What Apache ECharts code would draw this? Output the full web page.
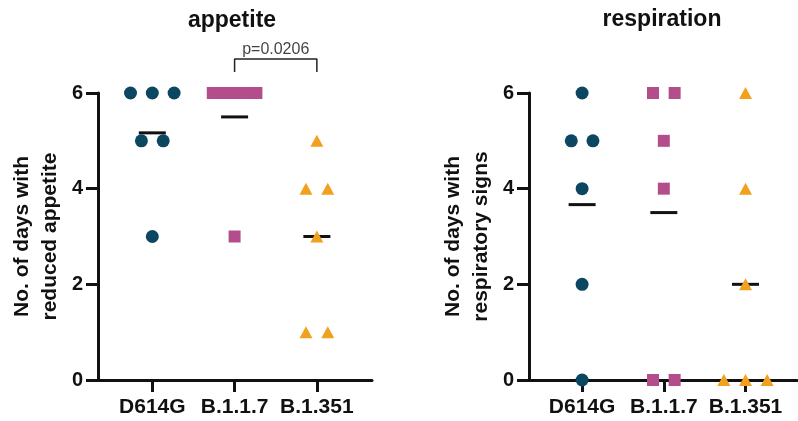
<!DOCTYPE html>
<html>
<head>
<meta charset="utf-8">
<script src="https://cdn.jsdelivr.net/npm/echarts@6/dist/echarts.min.js"></script>
<style>
  html, body { margin: 0; padding: 0; background: #fff; }
  #chart { width: 798px; height: 421px; }
</style>
</head>
<body>
<div id="chart"></div>
<script>
// groups on the x axis
const groups = ['D614G', 'B.1.1.7', 'B.1.351']
const yTicks = [0, 2, 4, 6]

// appetite: days with reduced appetite per animal
const appetiteD614G = [6, 6, 6, 5, 5, 3]
const appetiteB117 = [6, 6, 6, 6, 6, 3]
const appetiteB1351 = [5, 4, 4, 3, 1, 1]

// respiration: days with respiratory signs per animal
const respD614G = [6, 5, 5, 4, 2, 0]
const respB117 = [6, 6, 5, 4, 0, 0]
const respB1351 = [6, 4, 2, 0, 0, 0]

// significance bracket on the appetite panel (group indices)
const bracketPair = [1, 2]
const pLabel = 'p=0.0206'

const font = "'Liberation Sans', Arial, sans-serif"
const ink = '#111'
const colors = ['#0c4762', '#b34d8b', '#f2a11f']
const symbols = ['circle', 'rect', 'triangle']
const symbolSizes = [13, 12, [13, 12]]

// spread equal values side by side, like a column scatter
function swarm(values, gi) {
  const counts = {}
  values.forEach(v => { counts[v] = (counts[v] || 0) + 1 })
  const seen = {}
  return values.map(v => {
    const n = counts[v]
    seen[v] = seen[v] === undefined ? 0 : seen[v] + 1
    const step = n > 1 ? Math.min(0.265, 0.53 / (n - 1)) : 0
    return [gi + 1 + (seen[v] - (n - 1) / 2) * step, v]
  })
}

function mean(values) {
  return values.reduce((a, b) => a + b, 0) / values.length
}

function panelSeries(sets, idx) {
  const out = []
  sets.forEach((vals, gi) => {
    // mean line
    out.push({
      type: 'scatter',
      xAxisIndex: idx,
      yAxisIndex: idx,
      symbol: 'rect',
      symbolSize: [27, 3],
      itemStyle: { color: ink, opacity: 1 },
      data: [[gi + 1, mean(vals)]],
      z: 3,
      clip: false,
      silent: true
    })
    // individual animals
    out.push({
      type: 'scatter',
      xAxisIndex: idx,
      yAxisIndex: idx,
      symbol: symbols[gi],
      symbolSize: symbolSizes[gi],
      itemStyle: { color: colors[gi], opacity: 1 },
      data: swarm(vals, gi),
      z: 4,
      clip: false
    })
  })
  return out
}

function xAxis(idx, min, max) {
  return {
    type: 'value',
    gridIndex: idx,
    min: min,
    max: max,
    axisLine: { onZero: false, lineStyle: { color: ink, width: 3 } },
    axisTick: { show: true, length: 12, lineStyle: { color: ink, width: 3 }, customValues: groups.map((g, i) => i + 1) },
    axisLabel: {
      customValues: groups.map((g, i) => i + 1),
      formatter: v => groups[Math.round(v) - 1],
      color: ink, fontFamily: font, fontWeight: 'bold', fontSize: 21, margin: 17
    },
    splitLine: { show: false }
  }
}

function yAxis(idx, name) {
  return {
    type: 'value',
    gridIndex: idx,
    min: yTicks[0],
    max: yTicks[yTicks.length - 1],
    interval: 2,
    name: name,
    nameLocation: 'middle',
    nameGap: 34,
    nameTextStyle: { color: ink, fontFamily: font, fontWeight: 'bold', fontSize: 21, lineHeight: 28 },
    axisLine: { show: true, onZero: false, lineStyle: { color: ink, width: 3 } },
    axisTick: { show: true, length: 12, lineStyle: { color: ink, width: 3 } },
    axisLabel: { color: ink, fontFamily: font, fontWeight: 'bold', fontSize: 20, margin: 15 },
    splitLine: { show: false }
  }
}

const bracketLow = 6.44
const bracketTop = 6.71
const bracketData = [
  [bracketPair[0] + 1, bracketLow],
  [bracketPair[0] + 1, bracketTop],
  [bracketPair[1] + 1, bracketTop],
  [bracketPair[1] + 1, bracketLow]
]

const chart = echarts.init(document.getElementById('chart'))

const option = {
  backgroundColor: '#fff',
  animation: false,
  title: [
    { text: 'appetite', left: 232, top: 9, textAlign: 'center', padding: 0,
      textStyle: { color: ink, fontFamily: font, fontWeight: 'bold', fontSize: 23 } },
    { text: 'respiration', left: 662, top: 8, textAlign: 'center', padding: 0,
      textStyle: { color: ink, fontFamily: font, fontWeight: 'bold', fontSize: 23 } }
  ],
  grid: [
    { left: 98, top: 93, width: 274, height: 287 },
    { left: 529, top: 93, width: 268, height: 287 }
  ],
  xAxis: [xAxis(0, 0.34, 3.67), xAxis(1, 0.35, 3.63)],
  yAxis: [
    yAxis(0, 'No. of days with\nreduced appetite'),
    yAxis(1, 'No. of days with\nrespiratory signs')
  ],
  series: [
    ...panelSeries([appetiteD614G, appetiteB117, appetiteB1351], 0),
    ...panelSeries([respD614G, respB117, respB1351], 1),
    {
      type: 'line',
      xAxisIndex: 0,
      yAxisIndex: 0,
      data: bracketData,
      symbol: 'none',
      clip: false,
      lineStyle: { color: '#222', width: 1.5 },
      silent: true
    },
    {
      type: 'scatter',
      xAxisIndex: 0,
      yAxisIndex: 0,
      data: [[(bracketPair[0] + bracketPair[1]) / 2 + 1, bracketTop]],
      symbolSize: 0,
      itemStyle: { color: 'rgba(0,0,0,0)' },
      clip: false,
      silent: true,
      label: {
        show: true, position: 'top', distance: 1,
        formatter: pLabel,
        color: '#111', fontFamily: font, fontSize: 16
      }
    }
  ]
}

chart.setOption(option)
</script>
</body>
</html>
